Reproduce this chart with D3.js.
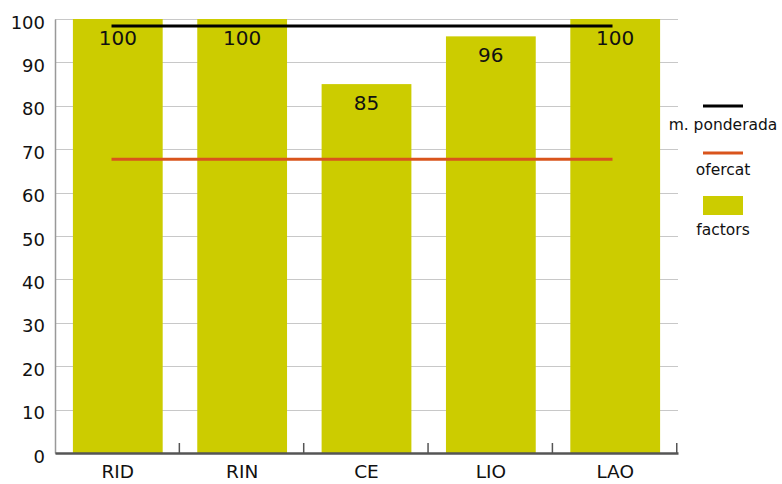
<!DOCTYPE html>
<html>
<head>
<meta charset="utf-8">
<script src="https://cdn.jsdelivr.net/npm/d3@7"></script>
<style>
	body { margin: 0; background: #fff; }
	svg { display: block; font-family: "DejaVu Sans", Verdana, sans-serif; }
	.grid line { stroke: #c8c8c8; shape-rendering: crispEdges; }
	.grid path { display: none; }
	.yaxis text { font-family: "DejaVu Sans", Verdana, sans-serif; font-size: 18px; fill: #111; }
	.xaxis text { font-family: "DejaVu Sans", Verdana, sans-serif; font-size: 18.5px; fill: #111; }
	.vlabel { font-size: 20px; fill: #111; text-anchor: middle; }
	.legend text { font-size: 15.5px; fill: #111; text-anchor: middle; }
</style>
</head>
<body>
<svg></svg>
<script>
	var categories = ["RID", "RIN", "CE", "LIO", "LAO"];
	var factors = [100, 100, 85, 96, 100];
	var ponderada = 98.4;
	var ofercat = 67.7;
	var yTicks = [0, 10, 20, 30, 40, 50, 60, 70, 80, 90, 100];

	var sizeSvg = { wt: 782, ht: 484 };
	var margin = { left: 55, top: 19 };
	var sizeChart = { wt: 623, ht: 434 };

	var barColor = "#cccc00";
	var redColor = "#d9541c";

	var svg = d3.select("svg")
		.attr("width", sizeSvg.wt)
		.attr("height", sizeSvg.ht);

	var xScale = d3.scaleBand().domain(categories)
		.range([margin.left, margin.left + sizeChart.wt])
		.paddingInner(0.278).paddingOuter(0.144);
	var yScale = d3.scaleLinear().domain([0, 100])
		.range([margin.top + sizeChart.ht, margin.top]);

	var bottom = margin.top + sizeChart.ht;

	// gridlines
	svg.append("g").attr("class", "grid")
		.attr("transform", "translate(" + margin.left + ",0)")
		.call(d3.axisLeft(yScale).tickValues(yTicks).tickSize(-sizeChart.wt).tickFormat(""));

	// bars
	svg.append("g").selectAll("rect").data(factors)
		.enter().append("rect")
		.attr("x", function (d, i) { return xScale(categories[i]); })
		.attr("y", function (d) { return yScale(d); })
		.attr("width", xScale.bandwidth())
		.attr("height", function (d) { return bottom - yScale(d); })
		.style("fill", barColor);

	// y axis
	var yAxis = svg.append("g").attr("class", "yaxis")
		.attr("transform", "translate(" + margin.left + ",0)")
		.call(d3.axisLeft(yScale).tickValues(yTicks).tickSize(0).tickPadding(10));
	yAxis.attr("font-family", null).attr("font-size", null);
	yAxis.select(".domain").attr("stroke", "#999").attr("stroke-width", 1.5);
	yAxis.selectAll("text").attr("dy", "0.62em").attr("y", -2);

	// x axis
	var xAxis = svg.append("g").attr("class", "xaxis")
		.attr("transform", "translate(0," + bottom + ")")
		.call(d3.axisBottom(xScale).tickSize(0).tickPadding(12));
	xAxis.attr("font-family", null).attr("font-size", null);
	xAxis.select(".domain").attr("stroke", "#555").attr("stroke-width", 2.5);

	// tick marks between the categories
	xAxis.selectAll(".sep").data(d3.range(1, categories.length + 1))
		.enter().append("line")
		.attr("x1", function (i) { return margin.left + i * xScale.step(); })
		.attr("x2", function (i) { return margin.left + i * xScale.step(); })
		.attr("y1", 0).attr("y2", -10)
		.attr("stroke", "#555").attr("stroke-width", 1.5);

	// reference lines
	var lineX1 = xScale(categories[0]) + xScale.bandwidth() * 0.43;
	var lineX2 = xScale(categories[categories.length - 1]) + xScale.bandwidth() * 0.47;
	[{ v: ponderada, c: "#000" }, { v: ofercat, c: redColor }].forEach(function (l) {
		svg.append("line")
			.attr("x1", lineX1).attr("x2", lineX2)
			.attr("y1", yScale(l.v)).attr("y2", yScale(l.v))
			.attr("stroke", l.c).attr("stroke-width", 3);
	});

	// value labels
	svg.append("g").selectAll("text").data(factors)
		.enter().append("text")
		.attr("class", "vlabel")
		.attr("x", function (d, i) { return xScale(categories[i]) + xScale.bandwidth() / 2; })
		.attr("y", function (d) { return yScale(d) + 26; })
		.text(function (d) { return d; });

	// legend
	var legend = svg.append("g").attr("class", "legend");
	legend.append("line").attr("x1", 703).attr("x2", 743).attr("y1", 106).attr("y2", 106)
		.attr("stroke", "#000").attr("stroke-width", 3);
	legend.append("text").attr("x", 723).attr("y", 130).text("m. ponderada");
	legend.append("line").attr("x1", 703).attr("x2", 743).attr("y1", 153).attr("y2", 153)
		.attr("stroke", redColor).attr("stroke-width", 3);
	legend.append("text").attr("x", 723).attr("y", 175).text("ofercat");
	legend.append("rect").attr("x", 703).attr("y", 196).attr("width", 40).attr("height", 19)
		.style("fill", barColor);
	legend.append("text").attr("x", 723).attr("y", 235).text("factors");
</script>
</body>
</html>
